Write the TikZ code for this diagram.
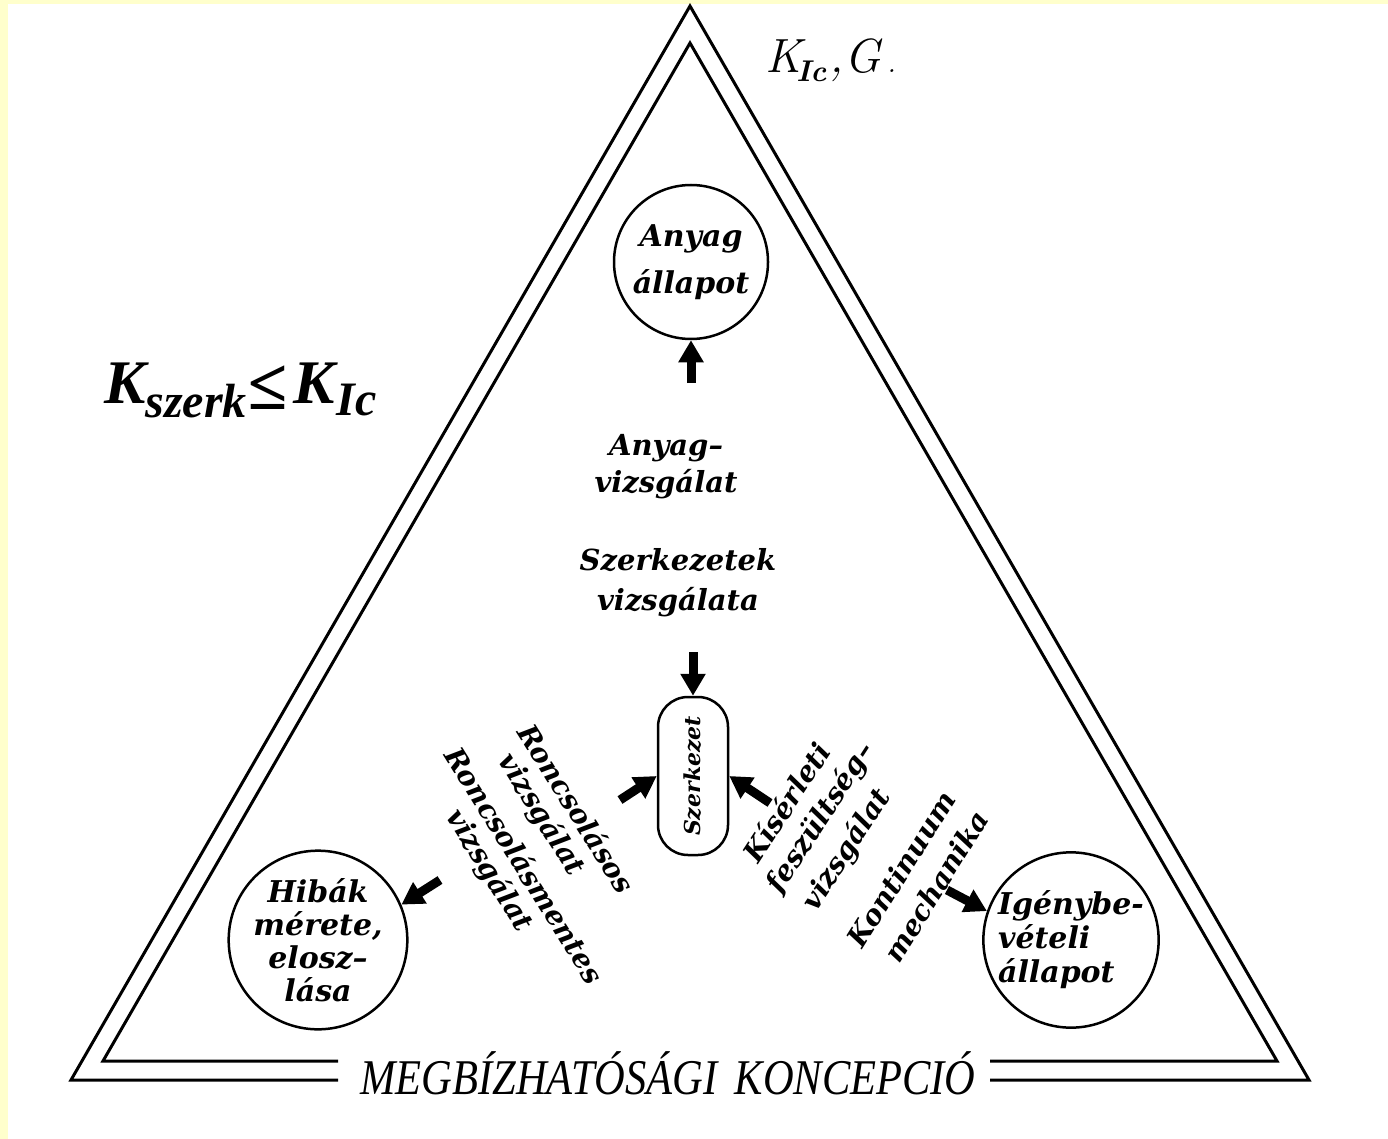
\documentclass[tikz,border=0pt]{standalone}
\usepackage{fontspec}
\usepackage{graphicx}
\usetikzlibrary{arrows.meta}
\newfontfamily\dvs{DejaVu Serif}
\newfontfamily\lsr{Liberation Serif}
\newcommand\myff[2]{\dvs\bfseries\itshape\fontsize{#1}{#2}\selectfont}
\definecolor{yel}{RGB}{255,255,204}
\begin{document}
\begin{tikzpicture}[x=1pt,y=-1pt,
  lbl/.style={font={\myff{28}{38}}, inner sep=0pt, align=center},
  ring/.style={circle, draw, line width=2.5pt, inner sep=0pt, align=center},
  barrow/.style={line width=9pt, -{Triangle[width=24pt,length=22pt]}},
  tri/.style={line width=3pt, line join=miter}]
\useasboundingbox (0,0) rectangle (1388,1139);
\fill[white] (0,0) rectangle (1388,1139);
\fill[yel] (0,0) rectangle (1388,4);
\fill[yel] (0,0) rectangle (8,1139);
% triangles
\draw[tri] (338,1080) -- (71,1080) -- (690,6) -- (1309,1080) -- (990,1080);
\draw[tri] (338,1061) -- (103,1061) -- (690,43) -- (1277,1061) -- (990,1061);
\node[inner sep=0pt, font={\lsr\itshape\fontsize{50}{50}\selectfont}] (title) at (668,1073)
  {\scalebox{0.85}[1]{MEGBÍZHATÓSÁGI\hspace{0.4em}KONCEPCIÓ}};
% formulas
\node[anchor=base west, inner sep=0pt, font={\fontsize{48}{48}\selectfont}] (kic) at (765,73)
  {\itshape K\kern-5pt\raisebox{-9pt}{\fontsize{30}{30}\selectfont\bfseries Ic}\kern3pt,\kern1pt G\kern6pt{\fontsize{30}{30}\selectfont .}};
\node[anchor=base west, inner sep=0pt, font={\lsr\bfseries\itshape\fontsize{62}{62}\selectfont}] (kszerk) at (104,403)
  {K\raisebox{-14pt}{\fontsize{48}{48}\selectfont szerk}\kern1pt\raisebox{-6pt}{\fontsize{72}{72}\selectfont ≤}\kern6pt K\kern2pt\raisebox{-12pt}{\fontsize{48}{48}\selectfont Ic}};
% circles
\node[ring, minimum size=154pt, font={\myff{30}{47}}] (anyag) at (691,262) {Anyag\\állapot};
\node[ring, minimum size=170pt, font={\myff{30}{33}}] (hib) at (318,940) {Hibák\\mérete,\\elosz–\\lása};
\node[ring, minimum size=172pt, font={\myff{30}{34}}, align=left] (igeny) at (1071,940) {Igénybe-\\vételi\\állapot};
% structure box
\node[draw, line width=2.5pt, rounded corners=30pt, minimum width=70pt, minimum height=158pt, inner sep=0pt] (szk) at (693,776)
  {\rotatebox{90}{\myff{22}{22}Szerkezet}};
% texts
\node[lbl, font={\myff{29}{37}}] (anyvizs) at (666,467) {Anyag–\\vizsgálat};
\node[lbl, font={\myff{29}{40}}] (szvizs) at (678,583) {Szerkezetek\\vizsgálata};
\node[lbl, rotate=-58] (r1) at (577,808) {Roncsolásos};
\node[lbl, rotate=-58] (r2) at (541,815) {vizsgálat};
\node[lbl, rotate=-58] (r3) at (525,865) {Roncsolásmentes};
\node[lbl, rotate=-58] (r4) at (489,871) {vizsgálat};
\node[lbl, rotate=57] (k1) at (786,802) {Kísérleti};
\node[lbl, rotate=57] (k2) at (821,818) {feszültség–};
\node[lbl, rotate=57] (k3) at (847,850) {vizsgálat};
\node[lbl, rotate=58] (m1) at (901,869) {Kontinuum};
\node[lbl, rotate=58] (m2) at (936,886) {mechanika};
% arrows
\coordinate (t1) at (691,383);
\coordinate (t2) at (693,652);
\coordinate (t3) at (620,800);
\coordinate (t4) at (770,803);
\coordinate (t5) at (440,880);
\coordinate (t6) at (947,890);
\draw[barrow] (t1) -- (anyag.south);
\draw[barrow] (t2) -- (szk.north);
\draw[barrow] (t3) -- (szk.west);
\draw[barrow] (t4) -- (szk.east);
\draw[barrow] (t5) -- (hib.23);
\draw[barrow] (t6) -- (igeny.161);
\end{tikzpicture}
\end{document}
